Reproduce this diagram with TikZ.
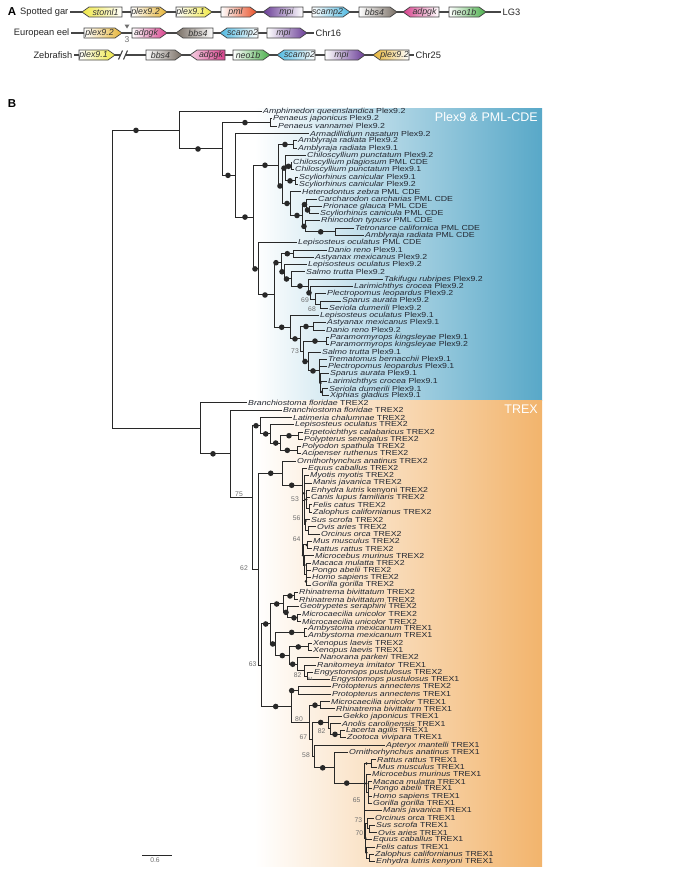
\documentclass[tikz,border=0pt]{standalone}
\usepackage{fontspec}
\setmainfont{Liberation Sans}
\newfontfamily\leaffont[FakeStretch=1.2]{Liberation Sans}
\usetikzlibrary{calc}
\definecolor{treeline}{RGB}{40,40,40}
\definecolor{treetext}{RGB}{35,40,50}
\definecolor{suptext}{RGB}{110,110,110}
\definecolor{plexblue}{RGB}{88,168,200}
\definecolor{trexorange}{RGB}{242,180,108}
\definecolor{gyellow}{RGB}{240,232,70}
\definecolor{ggold}{RGB}{230,180,55}
\definecolor{gred}{RGB}{232,80,40}
\definecolor{gpurple}{RGB}{105,60,150}
\definecolor{gcyan}{RGB}{80,185,225}
\definecolor{ggray}{RGB}{120,110,100}
\definecolor{gmagenta}{RGB}{215,65,140}
\definecolor{ggreen}{RGB}{75,175,75}
\definecolor{chrom}{RGB}{70,70,70}
\newcommand{\ky}[1]{104.42+7.282*(#1)}
\newcommand{\leaf}[3]{\coordinate (L#1) at (#2,{\ky{#1}}); \node[leaf] (t#1) at (L#1) {#3};}
\newcommand{\nd}[3]{\coordinate (#1) at (#2,{\ky{#3}});}
\newcommand{\bd}[3]{\node[dot] (d#1) at (#2,{\ky{#3}}) {};}
\newcommand{\sd}[3]{\node[sdot] (s#1) at (#2,{\ky{#3}}) {};}
\newcommand{\kids}[2]{\foreach \kd in {#2}{\draw[br] (#1) |- (\kd);}}
\newcommand{\gR}[6]{\draw[genebox,left color=white,right color=#5] ({#2},{#4-5}) -- ({#3-7},{#4-5}) -- ({#3},{#4}) -- ({#3-7},{#4+5}) -- ({#2},{#4+5}) -- cycle;
 \node[genetext] (#1) at ({(#2+#3-7)/2},{#4}) {#6};}
\newcommand{\gL}[6]{\draw[genebox,left color=#5,right color=white] ({#2},{#4}) -- ({#2+7},{#4-5}) -- ({#3},{#4-5}) -- ({#3},{#4+5}) -- ({#2+7},{#4+5}) -- cycle;
 \node[genetext] (#1) at ({(#2+7+#3)/2},{#4}) {#6};}
\begin{document}
\begin{tikzpicture}[x=1pt,y=-1pt,
  br/.style={draw=treeline,line width=1pt},
  dot/.style={circle,fill=treeline,inner sep=0pt,minimum size=5.6pt},
  sdot/.style={circle,fill=treeline,inner sep=0pt,minimum size=2.8pt},
  leaf/.style={anchor=west,inner sep=1pt,text=treetext,font=\leaffont\fontsize{7.3}{8}\selectfont},
  sup/.style={inner sep=0pt,text=suptext,font=\fontsize{6.8}{8}\selectfont},
  genebox/.style={draw=chrom,line width=0.75pt},
  genetext/.style={inner sep=0pt,text=black!80,font=\itshape\fontsize{8.8}{10}\selectfont},
  rowlab/.style={inner sep=1.5pt,font=\fontsize{9.3}{11}\selectfont,text=black!85},
  chromline/.style={draw=chrom,line width=1.1pt},
  plab/.style={inner sep=0pt,font=\bfseries\fontsize{11.5}{13}\selectfont}]
\useasboundingbox (0,0) rectangle (685,870);
\fill[white] (0,0) rectangle (685,870);
% ---------- Panel A ----------
\node[plab] (pa) at (12,12) {A};
\node[rowlab,anchor=east] (r1) at (70,12) {Spotted gar};
\node[rowlab,anchor=west] (r1e) at (501,12) {LG3};
\draw[chromline] (r1.east) -- (r1e.west);
\gL{g11}{82}{122}{12}{gyellow}{stoml1}
\gR{g12}{131}{167}{12}{ggold}{plex9.2}
\gR{g13}{176}{212}{12}{gyellow}{plex9.1}
\gR{g14}{221}{257}{12}{gred}{pml}
\gL{g15}{263}{303}{12}{gpurple}{mpi}
\gR{g16}{312}{350}{12}{gcyan}{scamp2}
\gR{g17}{359}{397}{12}{ggray}{bbs4}
\gL{g18}{403}{439}{12}{gmagenta}{adpgk}
\gR{g19}{449}{486}{12}{ggreen}{neo1b}
\node[rowlab,anchor=east] (r2) at (71,33) {European eel};
\node[rowlab,anchor=west] (r2e) at (314,33) {Chr16};
\draw[chromline] (r2.east) -- (r2e.west);
\gR{g21}{84}{122}{33}{ggold}{plex9.2}
\fill[suptext] (124.5,24.5) -- (129.5,24.5) -- (127,28.5) -- cycle;
\node[sup,font=\fontsize{8.5}{9}\selectfont] (m3) at (127,39.5) {3};
\gR{g22}{132}{167}{33}{gmagenta}{adpgk}
\gL{g23}{176}{213}{33}{ggray}{bbs4}
\gL{g24}{220}{258}{33}{gcyan}{scamp2}
\gR{g25}{267}{307}{33}{gpurple}{mpi}
\node[rowlab,anchor=east] (r3) at (74,55) {Zebrafish};
\node[rowlab,anchor=west] (r3e) at (414,55) {Chr25};
\coordinate (brk1) at (120.5,55); \coordinate (brk2) at (125.5,55);
\draw[chromline] (r3.east) -- (brk1);
\draw[chromline] (brk2) -- (r3e.west);
\draw[chromline] (118.5,59.5) -- (122.5,50.5);
\draw[chromline] (123.5,59.5) -- (127.5,50.5);
\gR{g31}{79}{115}{55}{gyellow}{plex9.1}
\gR{g32}{146}{182}{55}{ggray}{bbs4}
\draw[genebox,left color=gmagenta!25,right color=gmagenta] (190,55) -- (197,50) -- (225,50) -- (225,60) -- (197,60) -- cycle;
\node[genetext] (g33) at (211,55) {adpgk};
\gR{g34}{233}{270}{55}{ggreen}{neo1b}
\gL{g35}{277}{315}{55}{gcyan}{scamp2}
\gR{g36}{325}{365}{55}{gpurple}{mpi}
\gL{g37}{373}{409}{55}{ggold}{plex9.2}
% ---------- Panel B ----------
\node[plab] (pb) at (12,103.5) {B};
\shade[left color=white,right color=plexblue] (255,108) rectangle (542,400);
\shade[left color=white,right color=trexorange] (255,400) rectangle (542,866);
\node[anchor=east,inner sep=0pt,text=white,font=\fontsize{12.5}{14}\selectfont] (hplex) at (538,117) {Plex9 \& PML-CDE};
\node[anchor=east,inner sep=0pt,text=white,font=\fontsize{12.5}{14}\selectfont] (htrex) at (538,409) {TREX};
% leaves
\leaf{1}{262}{\textit{Amphimedon queenslandica} Plex9.2}
\leaf{2}{272}{\textit{Penaeus japonicus} Plex9.2}
\leaf{3}{277}{\textit{Penaeus vannamei} Plex9.2}
\leaf{4}{309}{\textit{Armadillidium nasatum} Plex9.2}
\leaf{5}{297}{\textit{Amblyraja radiata} Plex9.2}
\leaf{6}{297}{\textit{Amblyraja radiata} Plex9.1}
\leaf{7}{306}{\textit{Chiloscyllium punctatum} Plex9.2}
\leaf{8}{292}{\textit{Chiloscyllium plagiosum} PML CDE}
\leaf{9}{294}{\textit{Chiloscyllium punctatum} Plex9.1}
\leaf{10}{298}{\textit{Scyliorhinus canicular} Plex9.1}
\leaf{11}{298}{\textit{Scyliorhinus canicular} Plex9.2}
\leaf{12}{301}{\textit{Heterodontus zebra} PML CDE}
\leaf{13}{317}{\textit{Carcharodon carcharias} PML CDE}
\leaf{14}{322}{\textit{Prionace glauca} PML CDE}
\leaf{15}{319}{\textit{Scyliorhinus canicula} PML CDE}
\leaf{16}{320}{\textit{Rhincodon typusv} PML CDE}
\leaf{17}{354}{\textit{Tetronarce californica} PML CDE}
\leaf{18}{364}{\textit{Amblyraja radiata} PML CDE}
\leaf{19}{297}{\textit{Lepisosteus oculatus} PML CDE}
\leaf{20}{327}{\textit{Danio reno} Plex9.1}
\leaf{21}{314}{\textit{Astyanax mexicanus} Plex9.2}
\leaf{22}{307}{\textit{Lepisosteus oculatus} Plex9.2}
\leaf{23}{305}{\textit{Salmo trutta} Plex9.2}
\leaf{24}{383}{\textit{Takifugu rubripes} Plex9.2}
\leaf{25}{353}{\textit{Larimichthys crocea} Plex9.2}
\leaf{26}{326}{\textit{Plectropomus leopardus} Plex9.2}
\leaf{27}{341}{\textit{Sparus aurata} Plex9.2}
\leaf{28}{328}{\textit{Seriola dumerili} Plex9.2}
\leaf{29}{319}{\textit{Lepisosteus oculatus} Plex9.1}
\leaf{30}{326}{\textit{Astyanax mexicanus} Plex9.1}
\leaf{31}{325}{\textit{Danio reno} Plex9.2}
\leaf{32}{329}{\textit{Paramormyrops kingsleyae} Plex9.1}
\leaf{33}{329}{\textit{Paramormyrops kingsleyae} Plex9.2}
\leaf{34}{321}{\textit{Salmo trutta} Plex9.1}
\leaf{35}{327}{\textit{Trematomus bernacchii} Plex9.1}
\leaf{36}{327}{\textit{Plectropomus leopardus} Plex9.1}
\leaf{37}{329}{\textit{Sparus aurata} Plex9.1}
\leaf{38}{327}{\textit{Larimichthys crocea} Plex9.1}
\leaf{39}{328}{\textit{Seriola dumerili} Plex9.1}
\leaf{40}{329}{\textit{Xiphias gladius} Plex9.1}
\leaf{41}{247}{\textit{Branchiostoma floridae} TREX2}
\leaf{42}{282}{\textit{Branchiostoma floridae} TREX2}
\leaf{43}{292}{\textit{Latimeria chalumnae} TREX2}
\leaf{44}{294}{\textit{Lepisosteus oculatus} TREX2}
\leaf{45}{303}{\textit{Erpetoichthys calabaricus} TREX2}
\leaf{46}{303}{\textit{Polypterus senegalus} TREX2}
\leaf{47}{301}{\textit{Polyodon spathula} TREX2}
\leaf{48}{301}{\textit{Acipenser ruthenus} TREX2}
\leaf{49}{296}{\textit{Ornithorhynchus anatinus} TREX2}
\leaf{50}{307}{\textit{Equus caballus} TREX2}
\leaf{51}{309}{\textit{Myotis myotis} TREX2}
\leaf{52}{312}{\textit{Manis javanica} TREX2}
\leaf{53}{310}{\textit{Enhydra lutris} kenyoni TREX2}
\leaf{54}{310}{\textit{Canis lupus familiaris} TREX2}
\leaf{55}{312}{\textit{Felis catus} TREX2}
\leaf{56}{312}{\textit{Zalophus californianus} TREX2}
\leaf{57}{310}{\textit{Sus scrofa} TREX2}
\leaf{58}{316}{\textit{Ovis aries} TREX2}
\leaf{59}{320}{\textit{Orcinus orca} TREX2}
\leaf{60}{312}{\textit{Mus musculus} TREX2}
\leaf{61}{312}{\textit{Rattus rattus} TREX2}
\leaf{62}{314}{\textit{Microcebus murinus} TREX2}
\leaf{63}{311}{\textit{Macaca mulatta} TREX2}
\leaf{64}{311}{\textit{Pongo abelii} TREX2}
\leaf{65}{311}{\textit{Homo sapiens} TREX2}
\leaf{66}{311}{\textit{Gorilla gorilla} TREX2}
\leaf{67}{298}{\textit{Rhinatrema bivittatum} TREX2}
\leaf{68}{298}{\textit{Rhinatrema bivittatum} TREX2}
\leaf{69}{299}{\textit{Geotrypetes seraphini} TREX2}
\leaf{70}{301}{\textit{Microcaecilia unicolor} TREX2}
\leaf{71}{301}{\textit{Microcaecilia unicolor} TREX2}
\leaf{72}{307}{\textit{Ambystoma mexicanum} TREX1}
\leaf{73}{307}{\textit{Ambystoma mexicanum} TREX1}
\leaf{74}{312}{\textit{Xenopus laevis} TREX2}
\leaf{75}{312}{\textit{Xenopus laevis} TREX1}
\leaf{76}{319}{\textit{Nanorana parkeri} TREX2}
\leaf{77}{316}{\textit{Ranitomeya imitator} TREX1}
\leaf{78}{313}{\textit{Engystomops pustulosus} TREX2}
\leaf{79}{330}{\textit{Engystomops pustulosus} TREX1}
\leaf{80}{331}{\textit{Protopterus annectens} TREX2}
\leaf{81}{331}{\textit{Protopterus annectens} TREX1}
\leaf{82}{330}{\textit{Microcaecilia unicolor} TREX1}
\leaf{83}{335}{\textit{Rhinatrema bivittatum} TREX1}
\leaf{84}{342}{\textit{Gekko japonicus} TREX1}
\leaf{85}{341}{\textit{Anolis carolinensis} TREX1}
\leaf{86}{345}{\textit{Lacerta agilis} TREX1}
\leaf{87}{346}{\textit{Zootoca vivipara} TREX1}
\leaf{88}{385}{\textit{Apteryx mantelli} TREX1}
\leaf{89}{348}{\textit{Ornithorhynchus anatinus} TREX1}
\leaf{90}{376}{\textit{Rattus rattus} TREX1}
\leaf{91}{377}{\textit{Mus musculus} TREX1}
\leaf{92}{371}{\textit{Microcebus murinus} TREX1}
\leaf{93}{372}{\textit{Macaca mulatta} TREX1}
\leaf{94}{372}{\textit{Pongo abelii} TREX1}
\leaf{95}{372}{\textit{Homo sapiens} TREX1}
\leaf{96}{372}{\textit{Gorilla gorilla} TREX1}
\leaf{97}{382}{\textit{Manis javanica} TREX1}
\leaf{98}{374}{\textit{Orcinus orca} TREX1}
\leaf{99}{375}{\textit{Sus scrofa} TREX1}
\leaf{100}{377}{\textit{Ovis aries} TREX1}
\leaf{101}{372}{\textit{Equus caballus} TREX1}
\leaf{102}{375}{\textit{Felis catus} TREX1}
\leaf{103}{374}{\textit{Zalophus californianus} TREX1}
\leaf{104}{375}{\textit{Enhydra lutris kenyoni} TREX1}
% internal nodes
\nd{R}{112}{24.03}
\nd{P}{179}{3.56} \nd{P2}{222}{6.12} \nd{Pen}{270}{2.5} \nd{P3}{235}{9.74}
\nd{Vert}{253}{15.47} \nd{Chond}{278}{8.35} \nd{AmbP}{293}{5.5} \nd{Shark}{282}{11.2}
\nd{SPlex}{285}{8.75} \nd{ChiP}{291}{8.5} \nd{ScyP}{295}{10.5} \nd{SPML}{290}{13.6}
\nd{PML2}{302}{15.25} \nd{Lam1}{306}{13.75} \nd{Lam1b}{309}{14.5} \nd{Lam2}{305}{16.75}
\nd{Bat}{335}{17.5} \nd{Actino}{258}{22.59} \nd{ActPlex}{274}{26.17} \nd{N1}{281}{21.74}
\nd{Otoph}{293}{20.5} \nd{N2}{284}{22.98} \nd{N3}{291}{23.97} \nd{Acanth}{308}{24.94}
\nd{A2p}{310}{25.875} \nd{A3p}{315}{26.75} \nd{A4p}{320}{27.5} \nd{Plex91}{290}{30.6}
\nd{T1}{300}{32.2} \nd{Oto2}{313}{30.5} \nd{U2}{303.5}{33.9} \nd{OstP}{326.5}{32.5}
\nd{U3}{308}{35.3} \nd{Perc}{319}{36.6} \nd{Pc2}{320.5}{38.25} \nd{Pc3}{322}{39.5}
\nd{T}{200}{44.49} \nd{T2}{230}{47.98} \nd{T3}{252}{53.97}
\nd{A}{260}{44.125} \nd{Aa2}{270}{45.25} \nd{Aa3}{280}{46.5} \nd{Aa4}{298}{45.5} \nd{Aa5}{297}{47.5}
\nd{B}{258}{63.8} \nd{M}{282.7}{50.65} \nd{Th2}{302}{52.3} \nd{Lb}{304}{54.4}
\nd{Carn}{306.5}{54.25} \nd{CarnP}{309}{55.5} \nd{Cet}{305.5}{57.75} \nd{OvOr}{308.5}{58.5}
\nd{EA}{303}{61.9} \nd{Rod}{307}{60.5} \nd{Prim}{304.5}{63.25} \nd{Pr2}{306}{64.5}
\nd{C}{261.7}{77.0} \nd{Amph}{270}{71.35} \nd{Caec}{283.3}{68.6} \nd{RhinP}{294.3}{67.5}
\nd{Geo}{287.3}{69.75} \nd{MicP}{297}{70.5} \nd{Amph2}{275.7}{74.09} \nd{Ambys}{304}{72.5}
\nd{Frog}{289}{75.69} \nd{XenP}{308.3}{74.5} \nd{Frog2}{297.3}{76.875} \nd{N82}{304}{77.75}
\nd{N61}{307.3}{78.5} \nd{Sarc}{291.7}{82.68} \nd{Lung}{298.3}{80.5} \nd{Tet}{309.5}{84.86}
\nd{Caec1}{320}{82.5} \nd{Amn}{312}{87.2} \nd{Rept}{328.3}{84.875} \nd{N82b}{330}{85.75}
\nd{LZ}{340}{86.5} \nd{N58}{314}{89.55} \nd{Mam1}{334.3}{91.1} \nd{Ther1}{364}{93.2}
\nd{RodT}{371}{90.5} \nd{PrimT}{366.5}{93.25} \nd{PrT2}{368}{94.5} \nd{LaurT}{365.5}{100.75}
\nd{N73}{367}{98.75} \nd{N70}{369.5}{99.5} \nd{Carn1}{366.5}{102.75} \nd{CarnP1}{369}{103.5}
% edges
\kids{R}{P,T}
\kids{P}{L1,P2}
\kids{P2}{Pen,P3}
\kids{Pen}{L2,L3}
\kids{P3}{L4,Vert}
\kids{Vert}{Chond,Actino}
\kids{Chond}{AmbP,Shark}
\kids{AmbP}{L5,L6}
\kids{Shark}{SPlex,SPML}
\kids{SPlex}{L7,ChiP,ScyP}
\kids{ChiP}{L8,L9}
\kids{ScyP}{L10,L11}
\kids{SPML}{L12,PML2}
\kids{PML2}{Lam1,Lam2}
\kids{Lam1}{L13,Lam1b}
\kids{Lam1b}{L14,L15}
\kids{Lam2}{L16,Bat}
\kids{Bat}{L17,L18}
\kids{Actino}{L19,ActPlex}
\kids{ActPlex}{N1,Plex91}
\kids{N1}{Otoph,N2}
\kids{Otoph}{L20,L21}
\kids{N2}{L22,N3}
\kids{N3}{L23,Acanth}
\kids{Acanth}{L24,A2p}
\kids{A2p}{L25,A3p}
\kids{A3p}{L26,A4p}
\kids{A4p}{L27,L28}
\kids{Plex91}{L29,T1}
\kids{T1}{Oto2,U2}
\kids{Oto2}{L30,L31}
\kids{U2}{OstP,U3}
\kids{OstP}{L32,L33}
\kids{U3}{L34,Perc}
\kids{Perc}{L35,L36,Pc2}
\kids{Pc2}{L37,L38,Pc3}
\kids{Pc3}{L39,L40}
\kids{T}{L41,T2}
\kids{T2}{L42,T3}
\kids{T3}{A,B}
\kids{A}{L43,Aa2}
\kids{Aa2}{L44,Aa3}
\kids{Aa3}{Aa4,Aa5}
\kids{Aa4}{L45,L46}
\kids{Aa5}{L47,L48}
\kids{B}{M,C}
\kids{M}{L49,Th2}
\kids{Th2}{L50,Lb,EA}
\kids{Lb}{L51,L52,Carn,Cet}
\kids{Carn}{L53,L54,CarnP}
\kids{CarnP}{L55,L56}
\kids{Cet}{L57,OvOr}
\kids{OvOr}{L58,L59}
\kids{EA}{Rod,Prim}
\kids{Rod}{L60,L61}
\kids{Prim}{L62,Pr2}
\kids{Pr2}{L63,L64,L65,L66}
\kids{C}{Amph,Sarc}
\kids{Amph}{Caec,Amph2}
\kids{Caec}{RhinP,Geo}
\kids{RhinP}{L67,L68}
\kids{Geo}{L69,MicP}
\kids{MicP}{L70,L71}
\kids{Amph2}{Ambys,Frog}
\kids{Ambys}{L72,L73}
\kids{Frog}{XenP,Frog2}
\kids{XenP}{L74,L75}
\kids{Frog2}{L76,N82}
\kids{N82}{L77,N61}
\kids{N61}{L78,L79}
\kids{Sarc}{Lung,Tet}
\kids{Lung}{L80,L81}
\kids{Tet}{Caec1,Amn}
\kids{Caec1}{L82,L83}
\kids{Amn}{Rept,N58}
\kids{Rept}{L84,N82b}
\kids{N82b}{L85,LZ}
\kids{LZ}{L86,L87}
\kids{N58}{L88,Mam1}
\kids{Mam1}{L89,Ther1}
\kids{Ther1}{RodT,PrimT,L97,LaurT}
\kids{RodT}{L90,L91}
\kids{PrimT}{L92,PrT2}
\kids{PrT2}{L93,L94,L95,L96}
\kids{LaurT}{N73,L101,Carn1}
\kids{N73}{L98,N70}
\kids{N70}{L99,L100}
\kids{Carn1}{L102,CarnP1}
\kids{CarnP1}{L103,L104}
% support dots
\bd{P}{136}{3.56} \bd{P2}{198}{6.12} \bd{Pen}{245}{2.5} \bd{P3}{228}{9.74}
\bd{Vert}{245}{15.47} \bd{Chond}{265}{8.35} \bd{AmbP}{285}{5.5} \bd{Shark}{280}{11.2}
\bd{SPlex}{284}{8.75} \bd{ChiP}{288.5}{8.5} \bd{ScyP}{290}{10.5} \bd{SPML}{287}{13.6}
\bd{PML2}{297}{15.25} \bd{Lam1}{304.5}{13.75} \bd{Lam1b}{307.5}{14.5} \bd{Lam2}{304}{16.75}
\bd{Bat}{320.7}{17.5} \bd{Actino}{255}{22.59} \bd{ActPlex}{265}{26.17} \bd{N1}{276}{21.74}
\bd{Otoph}{287.3}{20.5} \bd{N2}{282}{22.98} \bd{N3}{286.5}{23.97} \bd{Acanth}{300}{24.94}
\bd{A2p}{309}{25.875} \bd{Plex91}{281.7}{30.6} \bd{T1}{295}{32.2} \bd{Oto2}{306}{30.5}
\bd{OstP}{315}{32.5} \bd{U3}{305}{35.3} \bd{Perc}{313}{36.6}
\sd{Pc2}{320.5}{38.25} \sd{Pc3}{321.8}{39.5}
\bd{T2}{213}{47.98} \bd{A}{256}{44.125} \bd{Aa2}{265.7}{45.25} \bd{Aa3}{275.7}{46.5}
\bd{Aa4}{289}{45.5} \bd{Aa5}{287.3}{47.5} \bd{M}{270.7}{50.65} \bd{Th2}{291.7}{52.3}
\sd{Lb}{304}{53.4} \sd{Carn}{306.3}{54.25} \sd{Cet}{305.4}{57.2} \sd{Rod}{306.8}{60.5}
\sd{EA}{303}{61.9} \sd{Prim}{304.4}{63.25} \sd{Pr2}{305.9}{65.5}
\bd{Amph}{265.7}{71.35} \bd{Caec}{276.7}{68.6} \bd{RhinP}{290}{67.5} \bd{Geo}{286}{69.75}
\bd{MicP}{294}{70.5} \bd{Amph2}{272.7}{74.09} \bd{Ambys}{291.7}{72.5} \bd{Frog}{282.3}{75.69}
\bd{XenP}{298.3}{74.5} \bd{Frog2}{292.7}{76.875} \bd{Sarc}{275.7}{82.68} \bd{Lung}{291.7}{80.5}
\bd{Caec1}{315}{82.5} \bd{Rept}{320.7}{84.875} \bd{LZ}{335}{86.5} \bd{Mam1}{322.7}{91.1}
\bd{Ther1}{346.7}{93.2}
\sd{RodT}{366.5}{90.5} \sd{PrimT}{366.3}{93.25} \sd{LaurT}{365.4}{100.75} \sd{Carn1}{366.4}{102.75}
% support values
\node[sup] (v69) at (305,300) {69};
\node[sup] (v68) at (312,309.5) {68};
\node[sup] (v73a) at (295,351) {73};
\node[sup] (v75) at (239,494) {75};
\node[sup] (v53) at (295,499) {53};
\node[sup] (v56) at (296.7,518.3) {56};
\node[sup] (v64) at (296.7,539.3) {64};
\node[sup] (v62) at (244,567.7) {62};
\node[sup] (v63) at (252.7,664.3) {63};
\node[sup] (v82a) at (297.7,675) {82};
\node[sup,font=\fontsize{4.5}{5}\selectfont] (v61) at (310.5,678.5) {61};
\node[sup] (v80) at (299,719.3) {80};
\node[sup] (v82b) at (321.7,731) {82};
\node[sup] (v67) at (303.3,737.3) {67};
\node[sup] (v58) at (306,755) {58};
\node[sup] (v65) at (356.7,800) {65};
\node[sup] (v73b) at (358.3,820) {73};
\node[sup] (v70) at (359.3,832.7) {70};
% scale bar
\coordinate (sb1) at (142,855); \coordinate (sb2) at (172,855);
\draw[br] (sb1) -- (sb2);
\node[sup] (sbl) at (155,860.5) {0.6};
\end{tikzpicture}
\end{document}
